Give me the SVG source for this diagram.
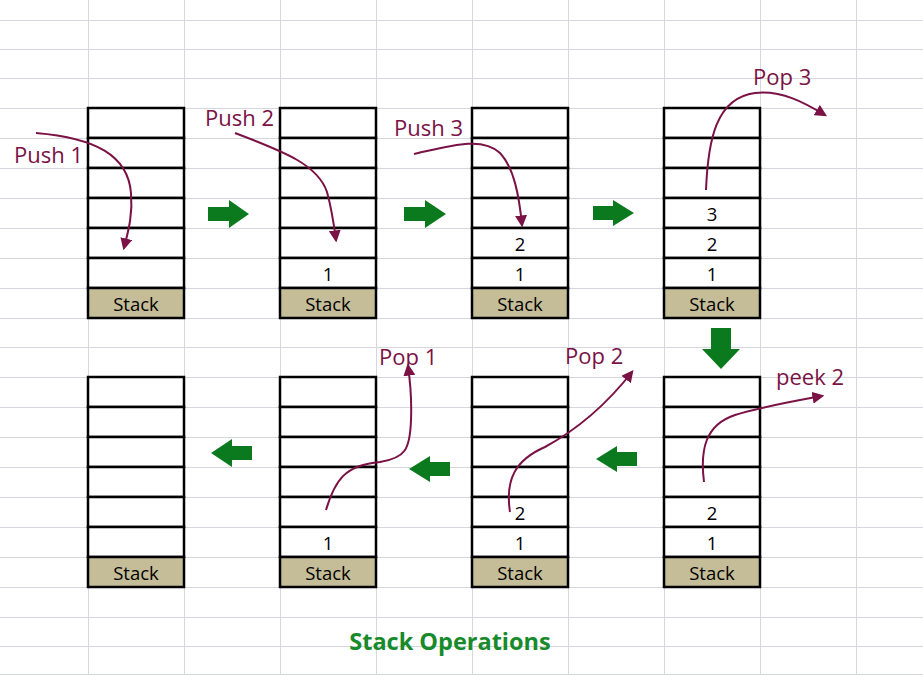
<svg xmlns="http://www.w3.org/2000/svg" width="923" height="675" viewBox="0 0 923 675">
<style>
.grid line{stroke:#d6d6de;stroke-width:1}
.cell{fill:#fff;stroke:#000;stroke-width:2.5}
.lbl{fill:#c4bd97;stroke:#000;stroke-width:2.5}
.st{font-family:"Open Sans","Noto Sans",sans-serif;font-size:18.5px;fill:#000;text-anchor:middle}
.op{font-family:"Open Sans","Noto Sans",sans-serif;font-size:22px;fill:#7a1245}
.curve{fill:none;stroke:#7a1245;stroke-width:2;marker-end:url(#ah)}
.blk{fill:#0b7a1e}
.title{font-family:"Open Sans","Noto Sans",sans-serif;font-size:23.5px;font-weight:bold;fill:#178a2b;text-anchor:middle}
</style>
<defs>
<marker id="ah" viewBox="0 0 10 10" refX="8" refY="5" markerWidth="6" markerHeight="6" markerUnits="strokeWidth" orient="auto">
<path d="M0,0 L10,5 L0,10 z" fill="#7a1245"/>
</marker>
<g id="stack7">
<rect class="cell" x="0" y="0" width="96" height="30"/>
<rect class="cell" x="0" y="30" width="96" height="30"/>
<rect class="cell" x="0" y="60" width="96" height="30"/>
<rect class="cell" x="0" y="90" width="96" height="30"/>
<rect class="cell" x="0" y="120" width="96" height="30"/>
<rect class="cell" x="0" y="150" width="96" height="30"/>
<rect class="lbl" x="0" y="180" width="96" height="30"/>
<text class="st" x="48" y="203">Stack</text>
</g>
</defs>
<rect width="923" height="675" fill="#fff"/>
<g class="grid">
<line x1="0" y1="20.5" x2="923" y2="20.5"/>
<line x1="0" y1="49.5" x2="923" y2="49.5"/>
<line x1="0" y1="78.5" x2="923" y2="78.5"/>
<line x1="0" y1="108.5" x2="923" y2="108.5"/>
<line x1="0" y1="138.5" x2="923" y2="138.5"/>
<line x1="0" y1="168.5" x2="923" y2="168.5"/>
<line x1="0" y1="198.5" x2="923" y2="198.5"/>
<line x1="0" y1="228.5" x2="923" y2="228.5"/>
<line x1="0" y1="258.5" x2="923" y2="258.5"/>
<line x1="0" y1="288.5" x2="923" y2="288.5"/>
<line x1="0" y1="318.5" x2="923" y2="318.5"/>
<line x1="0" y1="347.5" x2="923" y2="347.5"/>
<line x1="0" y1="377.5" x2="923" y2="377.5"/>
<line x1="0" y1="407.5" x2="923" y2="407.5"/>
<line x1="0" y1="437.5" x2="923" y2="437.5"/>
<line x1="0" y1="467.5" x2="923" y2="467.5"/>
<line x1="0" y1="497.5" x2="923" y2="497.5"/>
<line x1="0" y1="527.5" x2="923" y2="527.5"/>
<line x1="0" y1="557.5" x2="923" y2="557.5"/>
<line x1="0" y1="587.5" x2="923" y2="587.5"/>
<line x1="0" y1="617.5" x2="923" y2="617.5"/>
<line x1="0" y1="646.5" x2="923" y2="646.5"/>
<line x1="0" y1="674.5" x2="923" y2="674.5"/>
<line x1="88.5" y1="0" x2="88.5" y2="675"/>
<line x1="184.5" y1="0" x2="184.5" y2="675"/>
<line x1="280.5" y1="0" x2="280.5" y2="675"/>
<line x1="376.5" y1="0" x2="376.5" y2="675"/>
<line x1="472.5" y1="0" x2="472.5" y2="675"/>
<line x1="568.5" y1="0" x2="568.5" y2="675"/>
<line x1="664.5" y1="0" x2="664.5" y2="675"/>
<line x1="760.5" y1="0" x2="760.5" y2="675"/>
<line x1="856.5" y1="0" x2="856.5" y2="675"/>
</g>

<g id="stack-push1">
<use href="#stack7" x="88" y="108"/>
</g>
<g id="stack-push2">
<use href="#stack7" x="280" y="108"/>
<text class="st" x="328" y="281">1</text>
</g>
<g id="stack-push3">
<use href="#stack7" x="472" y="108"/>
<text class="st" x="520" y="251">2</text>
<text class="st" x="520" y="281">1</text>
</g>
<g id="stack-pop3">
<use href="#stack7" x="664" y="108"/>
<text class="st" x="712" y="221">3</text>
<text class="st" x="712" y="251">2</text>
<text class="st" x="712" y="281">1</text>
</g>
<g id="stack-peek2">
<use href="#stack7" x="664" y="377"/>
<text class="st" x="712" y="520">2</text>
<text class="st" x="712" y="550">1</text>
</g>
<g id="stack-pop2">
<use href="#stack7" x="472" y="377"/>
<text class="st" x="520" y="520">2</text>
<text class="st" x="520" y="550">1</text>
</g>
<g id="stack-pop1">
<use href="#stack7" x="280" y="377"/>
<text class="st" x="328" y="550">1</text>
</g>
<g id="stack-empty">
<use href="#stack7" x="88" y="377"/>
</g>

<g id="connectors">
<path class="blk" d="M208,207 H229 V200 L249,214 L229,228 V221 H208 Z"/>
<path class="blk" d="M404,207 H425 V200 L446,214 L425,228 V221 H404 Z"/>
<path class="blk" d="M593,206 H613 V200 L634,213 L613,226 V220 H593 Z"/>
<path class="blk" d="M711,328 H731 V349 H740 L721,369 L702,349 H711 Z"/>
<path class="blk" d="M637,452 H617 V446 L596,459 L617,472 V466 H637 Z"/>
<path class="blk" d="M450,462 H430 V456 L409,469 L430,482 V476 H450 Z"/>
<path class="blk" d="M252,446 H232 V439 L211,453 L232,467 V460 H252 Z"/>

<path class="curve" d="M36,133 C95,138 128,155 131,193 C133,215 128,232 124,248"/>
<path class="curve" d="M235,133 C285,152 318,165 327,192 C332,210 334,225 336,240"/>
<path class="curve" d="M414,154 C450,146 482,136 500,153 C514,168 519,195 522,225"/>
<path class="curve" d="M706,190 C708,140 716,98 755,93 C782,90 805,103 825,115"/>
<path class="curve" d="M704,482 C700,450 705,425 735,415 C765,406 795,401 822,396"/>
<path class="curve" d="M510,512 C505,480 515,460 545,447 C580,428 610,400 632,372"/>
<path class="curve" d="M326,510 C335,480 345,465 380,462 C405,458 410,450 411,420 C412,395 410,380 408,366"/>
</g>

<g id="labels">
<text class="op" x="14" y="163">Push 1</text>
<text class="op" x="205" y="126">Push 2</text>
<text class="op" x="394" y="136">Push 3</text>
<text class="op" x="753" y="85">Pop 3</text>
<text class="op" x="776" y="385">peek 2</text>
<text class="op" x="565" y="364">Pop 2</text>
<text class="op" x="379" y="365">Pop 1</text>
<text class="title" x="450" y="650">Stack Operations</text>
</g>
</svg>
